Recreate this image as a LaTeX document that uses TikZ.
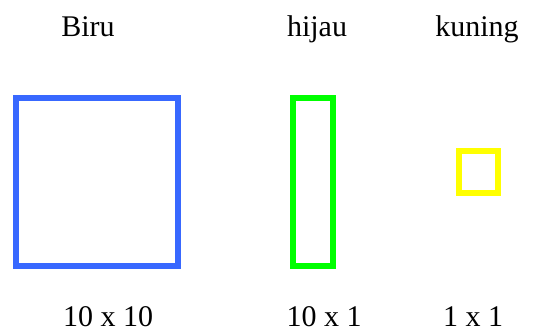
\documentclass[tikz,border=0pt]{standalone}
\usepackage{fontspec}
\setmainfont{Liberation Serif}
\definecolor{bblue}{RGB}{56,104,255}
\definecolor{bgreen}{RGB}{0,255,0}
\definecolor{byellow}{RGB}{255,255,0}
\begin{document}
\begin{tikzpicture}[x=1pt,y=-1pt,
  lbl/.style={anchor=base,inner sep=0pt,font=\fontsize{30}{36}\selectfont},
  box/.style={line width=6pt}]
\useasboundingbox (0,0) rectangle (537,333);
\node[lbl] (tb) at (88,36) {Biru};
\node[lbl] (th) at (317,36) {hijau};
\node[lbl] (tk) at (477,36) {kuning};
\draw[box,bblue] (16,98) rectangle (178,266);
\draw[box,bgreen] (293,98) rectangle (333,266);
\draw[box,byellow] (459,151) rectangle (498,193);
\node[lbl,text depth=0pt] (lb) at (108,326) {10 x 10};
\node[lbl,text depth=0pt] (lh) at (324,326) {10 x 1};
\node[lbl,text depth=0pt] (lk) at (473,326) {1 x 1};
\end{tikzpicture}
\end{document}
